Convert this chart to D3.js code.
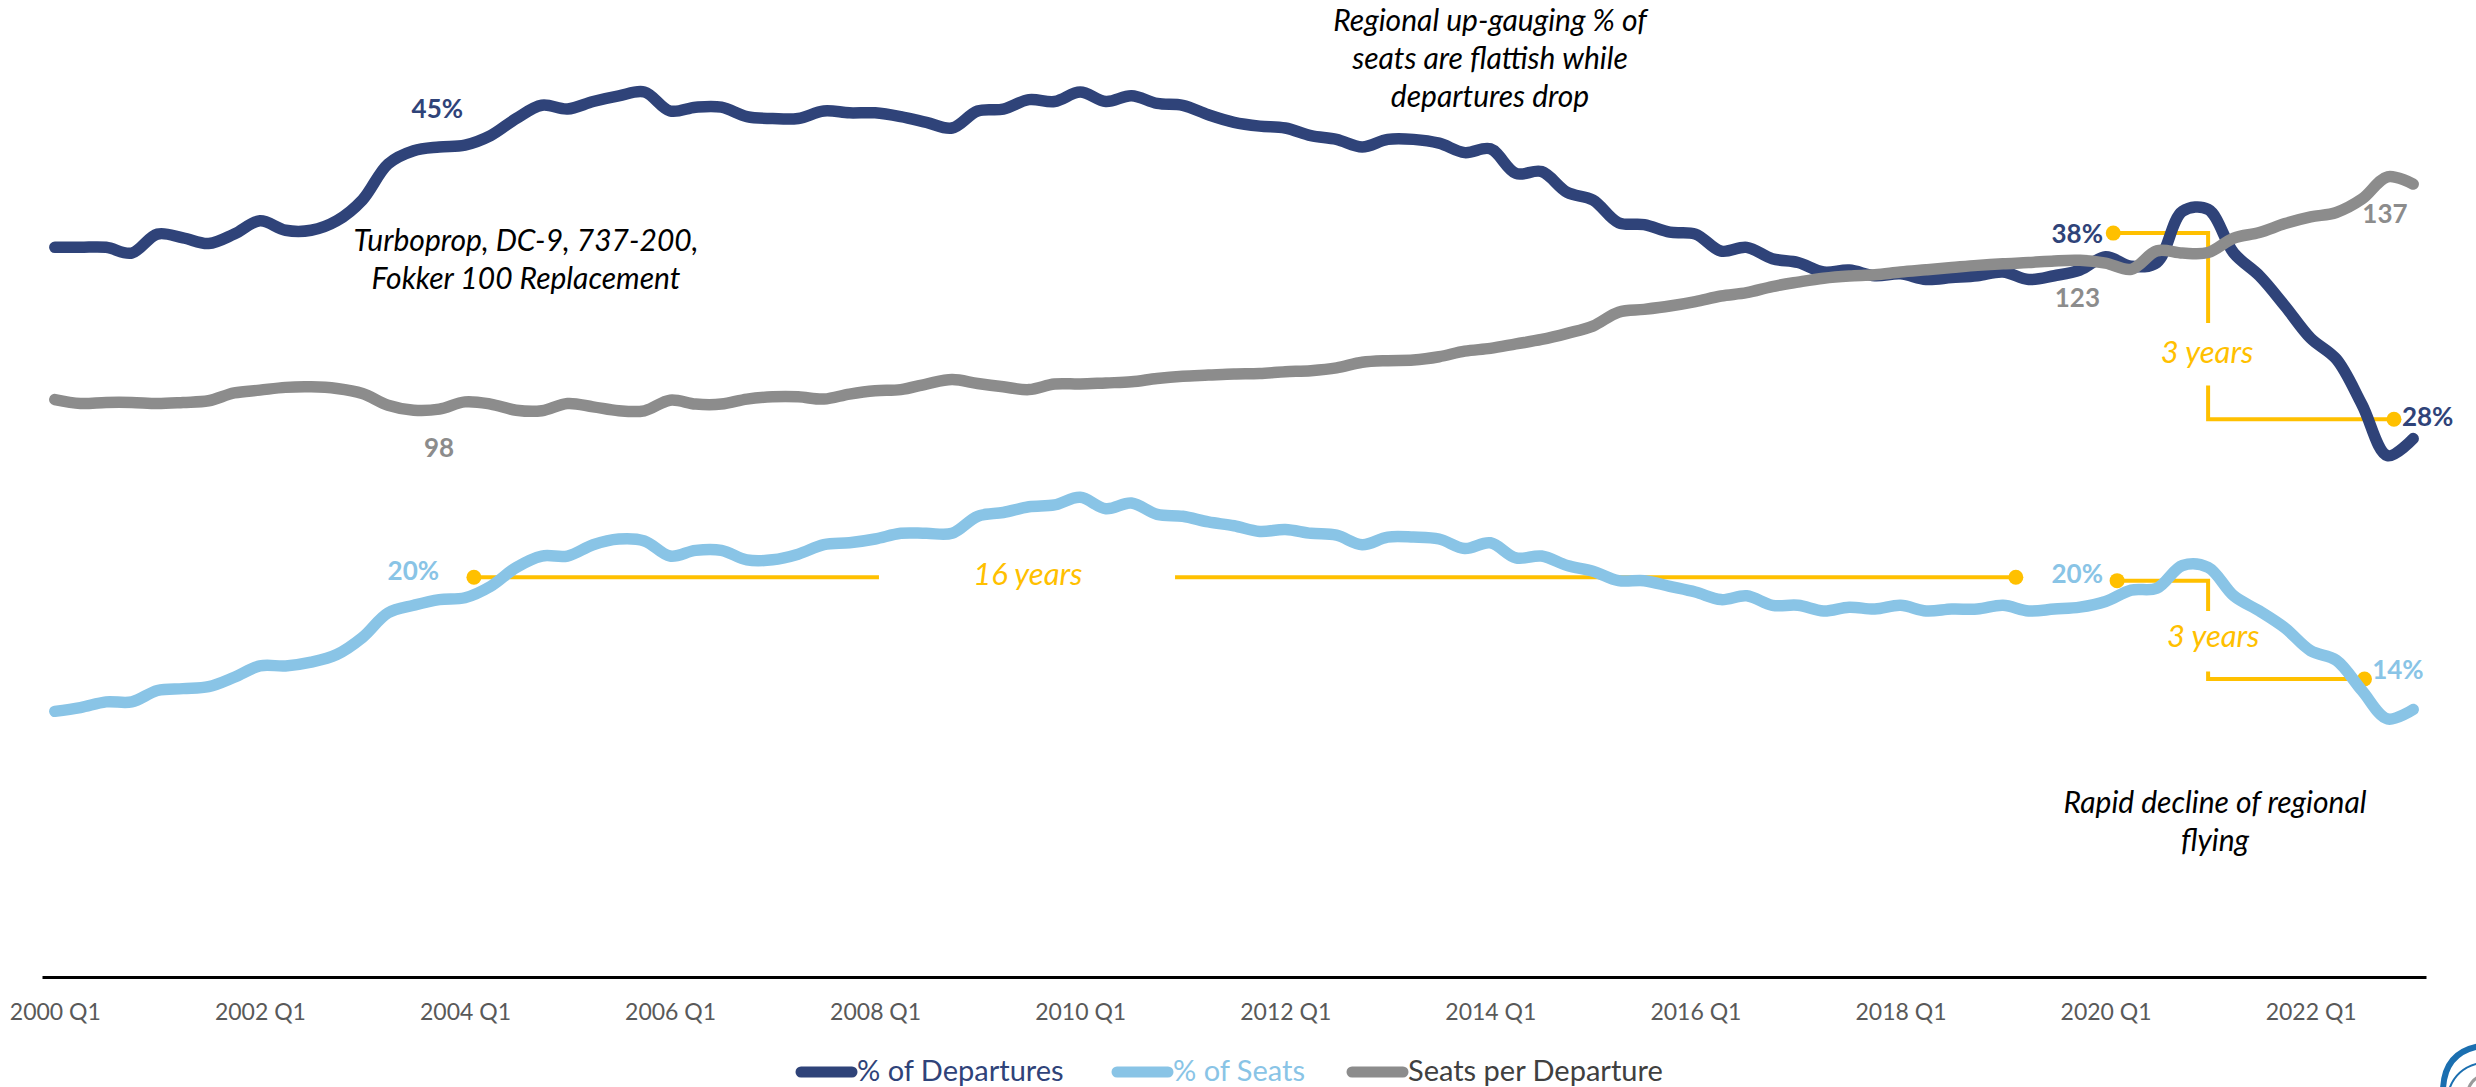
<!DOCTYPE html>
<html lang="en">
<head>
  <meta charset="utf-8">
  <title>Regional share of departures and seats</title>
  <script src="https://d3js.org/d3.v7.min.js"></script>
  <style>
    body { margin: 0; background: #fff; }
    svg { display: block; font-family: Lato, 'Open Sans', sans-serif; }
  </style>
</head>
<body>
<svg id="chart" width="2476" height="1087"></svg>
<script>
// quarters 2000 Q1 .. 2023 Q1
const quarters = [];
for (let y = 2000; y <= 2023; y++) {
  for (let q = 1; q <= 4; q++) {
    if (y < 2023 || q == 1) quarters.push(y + " Q" + q);
  }
}

const tickLabels = ["2000 Q1", "2002 Q1", "2004 Q1", "2006 Q1", "2008 Q1", "2010 Q1",
                    "2012 Q1", "2014 Q1", "2016 Q1", "2018 Q1", "2020 Q1", "2022 Q1"];

// % of departures flown by regional aircraft
const departures = [
  37.1, 37.1, 37.1, 36.8, 37.8, 37.6, 37.3, 37.8, 38.5, 38.0,
  38.0, 38.5, 39.6, 41.5, 42.2, 42.4, 42.5, 43.0, 43.9, 44.6,
  44.4, 44.8, 45.1, 45.3, 44.3, 44.5, 44.5, 44.0, 43.9, 43.9,
  44.3, 44.2, 44.2, 44.0, 43.7, 43.4, 44.3, 44.4, 44.9, 44.8,
  45.3, 44.8, 45.1, 44.7, 44.6, 44.1, 43.7, 43.5, 43.4, 43.0,
  42.8, 42.4, 42.8, 42.8, 42.6, 42.1, 42.3, 41.0, 41.1, 40.0,
  39.6, 38.4, 38.3, 37.9, 37.8, 36.9, 37.1, 36.5, 36.3, 35.8,
  35.9, 35.6, 35.7, 35.4, 35.5, 35.6, 35.8, 35.4, 35.6, 35.9,
  36.6, 36.1, 36.3, 39.0, 39.1, 36.8, 35.6, 34.0, 32.3, 31.2,
  28.8, 26.1, 27.0
];

// % of seats
const seats = [
  12.6, 12.8, 13.1, 13.1, 13.7, 13.8, 13.9, 14.4, 15.0, 15.0,
  15.2, 15.6, 16.5, 17.8, 18.2, 18.5, 18.6, 19.2, 20.2, 20.8,
  20.8, 21.4, 21.7, 21.6, 20.8, 21.1, 21.1, 20.6, 20.6, 20.9,
  21.4, 21.5, 21.7, 22.0, 22.0, 22.0, 22.9, 23.1, 23.4, 23.5,
  23.9, 23.3, 23.6, 23.0, 22.9, 22.6, 22.4, 22.1, 22.2, 22.0,
  21.9, 21.4, 21.8, 21.8, 21.7, 21.2, 21.5, 20.7, 20.8, 20.3,
  20.0, 19.5, 19.5, 19.2, 18.9, 18.5, 18.7, 18.2, 18.2, 17.9,
  18.1, 18.0, 18.2, 17.9, 18.0, 18.0, 18.2, 17.9, 18.0, 18.1,
  18.4, 19.0, 19.1, 20.3, 20.2, 18.7, 17.9, 17.0, 15.8, 15.3,
  13.7, 12.2, 12.7
];

// seats per departure (secondary axis)
const seatsPerDep = [
  98.8, 98.1, 98.3, 98.3, 98.1, 98.3, 98.6, 100.0, 100.5, 101.0,
  101.1, 100.8, 99.9, 97.8, 96.9, 97.1, 98.4, 98.0, 96.9, 96.8,
  98.1, 97.5, 96.8, 96.8, 98.7, 98.0, 98.0, 98.9, 99.3, 99.3,
  98.9, 99.8, 100.4, 100.6, 101.6, 102.4, 101.7, 101.1, 100.6, 101.6,
  101.6, 101.8, 102.0, 102.6, 103.0, 103.2, 103.4, 103.5, 103.8, 104.0,
  104.5, 105.5, 105.8, 105.9, 106.5, 107.5, 108.0, 108.8, 109.6, 110.7,
  112.0, 114.5, 115.0, 115.6, 116.4, 117.4, 118.0, 119.1, 119.9, 120.6,
  121.0, 121.2, 121.7, 122.1, 122.5, 122.9, 123.2, 123.4, 123.7, 123.8,
  123.3, 122.2, 125.5, 125.1, 125.2, 127.8, 128.8, 130.4, 131.6, 132.4,
  134.8, 138.8, 137.5
];

const seriesNames = ["% of Departures", "% of Seats", "Seats per Departure"];
const colors = { dep: "#2f4379", seat: "#89c4e6", spd: "#8c8c8c", gold: "#ffc000" };

const svg = d3.select("#chart");

const x = d3.scalePoint().domain(quarters).range([42, 2426]).padding(0.5);
const yPct = d3.scaleLinear().domain([0, 50]).range([950, 3]);
const ySeat = d3.scaleLinear().domain([0, 170]).range([950, 3]);

// fractional quarter index -> x
function xi(i) { return x(quarters[0]) + i * x.step(); }

// brackets (drawn under the lines)
function bracket(pts) {
  const g = svg.append("g").attr("stroke", colors.gold).attr("stroke-width", 4).attr("fill", "none");
  const line = d3.line().x(d => xi(d[0])).y(d => yPct(d[1]));
  pts.forEach(seg => g.append("path").attr("d", line(seg)));
}
// 16 years (seats)
bracket([[[16.35, 19.68], [32.15, 19.68]], [[43.7, 19.68], [76.5, 19.68]]]);
// 3 years (departures)
bracket([[[80.3, 37.85], [84, 37.85], [84, 33.1]], [[84, 29.8], [84, 28.02], [91.25, 28.02]]]);
// 3 years (seats)
bracket([[[80.45, 19.5], [84, 19.5], [84, 17.9]], [[84, 14.7], [84, 14.31], [90.1, 14.31]]]);

const dots = [[16.35, 19.68], [76.5, 19.68], [80.3, 37.85], [91.25, 28.02], [80.45, 19.5], [90.1, 14.31]];
svg.append("g").selectAll("circle").data(dots).join("circle")
  .attr("cx", d => xi(d[0])).attr("cy", d => yPct(d[1])).attr("r", 7.5)
  .attr("fill", colors.gold);

// lines
function drawLine(values, scale, color) {
  const line = d3.line()
    .x((d, i) => x(quarters[i]))
    .y(d => scale(d))
    .curve(d3.curveCatmullRom);
  svg.append("path").attr("d", line(values))
    .attr("fill", "none").attr("stroke", color).attr("stroke-width", 11.5)
    .attr("stroke-linecap", "round").attr("stroke-linejoin", "round");
}
drawLine(departures, yPct, colors.dep);
drawLine(seats, yPct, colors.seat);
drawLine(seatsPerDep, ySeat, colors.spd);

// x axis
const axis = svg.append("g").attr("transform", "translate(0,977)")
  .call(d3.axisBottom(x).tickValues(tickLabels).tickSize(0).tickSizeOuter(0).tickPadding(27));
axis.select(".domain").attr("stroke", "#000").attr("stroke-width", 3);
axis.selectAll("text").attr("fill", "#595959").attr("font-size", 23).attr("font-family", "Lato, sans-serif");

// value labels
const labels = [
  { t: "45%", i: 14.92, v: 43.93, s: yPct, c: colors.dep, a: "middle" },
  { t: "98", i: 14.99, v: 88.5, s: ySeat, c: colors.spd, a: "middle" },
  { t: "38%", i: 79.9, v: 37.33, s: yPct, c: colors.dep, a: "end" },
  { t: "123", i: 78.9, v: 115.4, s: ySeat, c: colors.spd, a: "middle" },
  { t: "137", i: 90.9, v: 130.5, s: ySeat, c: colors.spd, a: "middle" },
  { t: "28%", i: 91.56, v: 27.67, s: yPct, c: colors.dep, a: "start" },
  { t: "20%", i: 14.99, v: 19.54, s: yPct, c: colors.seat, a: "end" },
  { t: "20%", i: 79.9, v: 19.38, s: yPct, c: colors.seat, a: "end" },
  { t: "14%", i: 90.4, v: 14.31, s: yPct, c: colors.seat, a: "start" }
];
svg.append("g").selectAll("text").data(labels).join("text")
  .attr("x", d => xi(d.i)).attr("y", d => d.s(d.v))
  .attr("text-anchor", d => d.a).attr("fill", d => d.c)
  .attr("font-size", 26).attr("font-weight", "bold")
  .text(d => d.t);

const spans = [
  { t: "3 years", i: 83.96, v: 30.99 },
  { t: "3 years", i: 84.2, v: 16.0 },
  { t: "16 years", i: 37.96, v: 19.27 }
];
svg.append("g").selectAll("text").data(spans).join("text")
  .attr("x", d => xi(d.i)).attr("y", d => yPct(d.v))
  .attr("text-anchor", "middle").attr("fill", colors.gold)
  .attr("font-size", 31).attr("font-style", "italic")
  .text(d => d.t);

// notes
const notes = [
  { x: 526, y: 251, lines: ["Turboprop, DC-9, 737-200,", "Fokker 100 Replacement"] },
  { x: 1490, y: 31, lines: ["Regional up-gauging % of", "seats are flattish while", "departures drop"] },
  { x: 2215, y: 813, lines: ["Rapid decline of regional", "flying"] }
];
notes.forEach(n => {
  const t = svg.append("text").attr("text-anchor", "middle").attr("font-size", 30)
    .attr("font-style", "italic").attr("fill", "#000");
  n.lines.forEach((l, k) => t.append("tspan").attr("x", n.x).attr("y", n.y + k * 38).text(l));
});

// legend
const legend = [
  { name: seriesNames[0], c: colors.dep, x0: 801, tc: colors.dep },
  { name: seriesNames[1], c: colors.seat, x0: 1117, tc: colors.seat },
  { name: seriesNames[2], c: colors.spd, x0: 1352, tc: "#404040" }
];
const lg = svg.append("g").selectAll("g").data(legend).join("g");
lg.append("line").attr("x1", d => d.x0).attr("x2", d => d.x0 + 51)
  .attr("y1", 1072).attr("y2", 1072).attr("stroke", d => d.c)
  .attr("stroke-width", 11).attr("stroke-linecap", "round");
lg.append("text").attr("x", d => d.x0 + 56).attr("y", 1081)
  .attr("font-size", 29).attr("fill", d => d.tc).text(d => d.name);

// logo corner, cut by the page edge
const logo = svg.append("g").attr("fill", "none").attr("stroke-linecap", "round");
logo.append("path").attr("d", "M2443,1090 Q2444,1052 2480,1046").attr("stroke", "#1b6fb0").attr("stroke-width", 6);
logo.append("path").attr("d", "M2449,1090 Q2456,1068 2480,1063").attr("stroke", "#1b6fb0").attr("stroke-width", 2);
logo.append("path").attr("d", "M2468,1090 Q2471,1080 2480,1076").attr("stroke", "#9a9a9a").attr("stroke-width", 3);
</script>
</body>
</html>
